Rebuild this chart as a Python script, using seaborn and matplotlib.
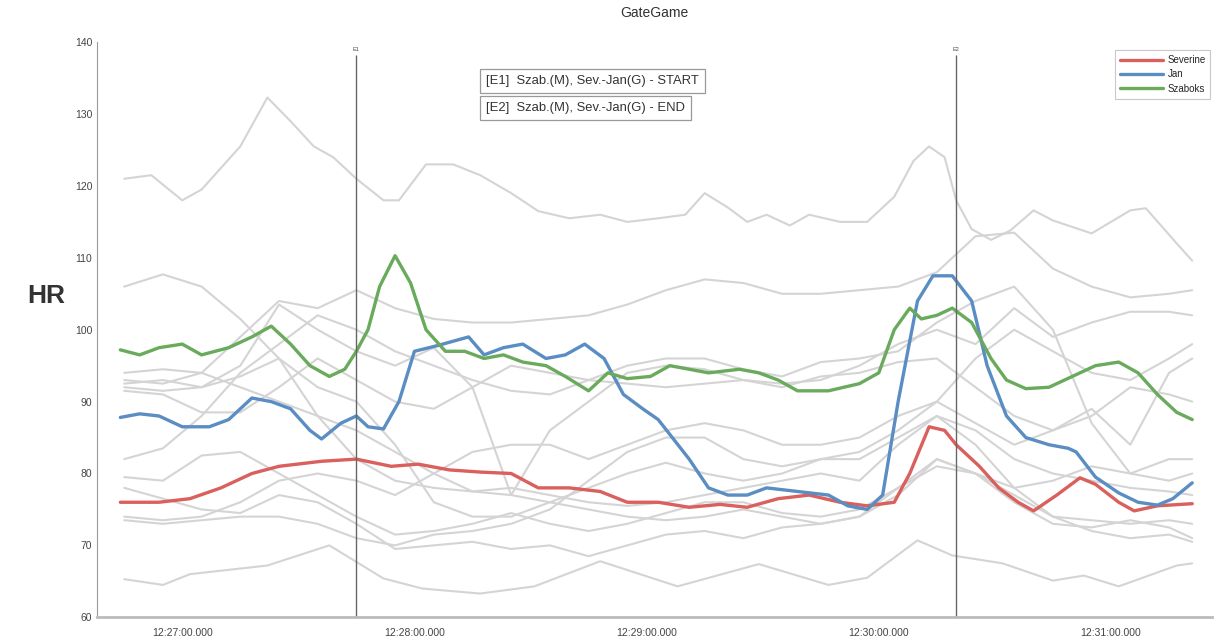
import numpy as np
import pandas as pd
import matplotlib
matplotlib.use('Agg')
import matplotlib.pyplot as plt
import matplotlib.dates as mdates
import seaborn as sns

# seconds relative to 12:27:00
e_times = [45, 200]
e_labels = ['E1', 'E2']
event_texts = ['[E1]  Szab.(M), Sev.-Jan(G) - START', '[E2]  Szab.(M), Sev.-Jan(G) - END']

# Severine (red)
sev_t = [-16, -6, 2, 10, 18, 25, 36, 45, 54, 61, 69, 77, 85, 92, 100, 108, 115, 123, 131, 139,
         146, 154, 162, 170, 177, 184, 188, 193, 197, 200, 206, 211, 216, 220, 226, 232, 236, 242, 246, 252, 261]
sev_hr = [76, 76, 76.5, 78, 80, 81, 81.7, 82, 81, 81.3, 80.5, 80.2, 80, 78, 78, 77.5, 76, 76, 75.3, 75.7,
          75.3, 76.5, 77, 76, 75.5, 76, 80, 86.5, 86, 84, 81, 78, 76, 74.8, 77, 79.4, 78.5, 76, 74.8, 75.5, 75.8]

# Jan (blue)
jan_t = [-16, -11, -6, 0, 7, 12, 18, 23, 28, 33, 36, 41, 45, 48, 52, 56, 60, 66, 74, 78,
         83, 88, 94, 99, 104, 109, 114, 119, 123, 131, 136, 141, 146, 151, 159, 167, 172, 177, 181, 185,
         190, 194, 199, 204, 208, 213, 218, 224, 229, 231, 236, 242, 247, 252, 256, 261]
jan_hr = [87.8, 88.3, 88, 86.5, 86.5, 87.5, 90.5, 90, 89, 86, 84.8, 87, 88, 86.5, 86.2, 90, 97, 97.8, 99, 96.5,
          97.5, 98, 96, 96.5, 98, 96, 91, 89, 87.5, 82, 78, 77, 77, 78, 77.5, 77, 75.5, 75, 77, 90,
          104, 107.5, 107.5, 104, 95, 88, 85, 84, 83.5, 83, 79.5, 77.3, 76, 75.6, 76.5, 78.7]

# Szaboks (green)
sza_t = [-16, -11, -6, 0, 5, 12, 18, 23, 28, 33, 38, 42, 45, 48, 51, 55, 59, 63, 68, 73,
         78, 83, 88, 94, 99, 105, 110, 115, 121, 126, 131, 136, 144, 149, 154, 159, 167, 175, 180, 184,
         188, 191, 195, 199, 204, 209, 213, 218, 224, 230, 236, 242, 247, 252, 257, 261]
sza_hr = [97.2, 96.5, 97.5, 98, 96.5, 97.5, 99, 100.5, 98, 95, 93.5, 94.5, 97, 100, 106, 110.3, 106.5, 100, 97, 97,
          96, 96.5, 95.5, 95, 93.5, 91.5, 94, 93.2, 93.5, 95, 94.5, 94, 94.5, 94, 93, 91.5, 91.5, 92.5, 94, 100,
          103, 101.5, 102, 103, 101, 96, 93, 91.8, 92, 93.5, 95, 95.5, 94, 91, 88.5, 87.5]

# background participants (gray)
top_t = [-15, -8, 0, 5, 15, 22, 28, 34, 39, 45, 52, 56, 63, 70, 77, 85, 92, 100, 108, 115,
         123, 130, 135, 141, 146, 151, 157, 162, 170, 177, 184, 189, 193, 197, 200, 204, 209, 214, 220, 225,
         235, 245, 249, 257, 261]
top_hr = [121, 121.5, 118, 119.5, 125.5, 132.3, 129, 125.5, 124, 121, 118, 118, 123, 123, 121.5, 119, 116.5, 115.5, 116, 115,
          115.5, 116, 119, 117, 115, 116, 114.5, 116, 115, 115, 118.5, 123.5, 125.5, 124, 118, 114, 112.5, 113.8, 116.6, 115.2,
          113.4, 116.6, 116.9, 112, 109.6]

low_t = [-15, -5, 2, 22, 38, 45, 52, 62, 77, 91, 108, 128, 149, 167, 177, 190, 199, 212, 225, 233, 242, 257, 261]
low_hr = [65.3, 64.5, 66, 67.2, 70, 67.7, 65.4, 64, 63.3, 64.3, 67.8, 64.3, 67.4, 64.5, 65.5, 70.7, 68.6, 67.5, 65.1, 65.8, 64.3, 67.2, 67.5]

grid_t = [-15, -5, 5, 15, 25, 35, 45, 55, 65, 75, 85, 95, 105, 115, 125, 135, 145, 155, 165, 175,
          185, 195, 205, 215, 225, 235, 245, 255, 261]
bg2 = [106, 107.7, 106, 101.5, 96, 88, 82, 79, 78, 77.5, 77, 76, 75, 74, 73.5, 74, 75, 74, 73, 74,
       78, 81, 80, 77, 74, 73.5, 73, 73.5, 73]
bg3 = [93, 92.5, 94, 99, 104, 103, 105.5, 103, 101.5, 101, 101, 101.5, 102, 103.5, 105.5, 107, 106.5, 105, 105, 105.5,
       106, 108, 113, 113.5, 108.5, 106, 104.5, 105, 105.5]
bg4 = [94, 94.5, 94, 92, 90, 88, 86, 83, 80, 77.5, 78, 77, 76, 75.5, 76, 77, 78, 79, 80, 79,
       84, 88, 86, 82, 80, 79, 78, 77.5, 77]
bg5 = [92.5, 93, 92, 95, 103.5, 100, 97, 95, 97.5, 92, 77, 86, 90, 94, 95, 94.5, 93, 92.5, 93, 95,
       98, 100, 98, 103, 99, 101, 102.5, 102.5, 102]
bg6 = [91.5, 91, 88.5, 88.5, 92, 96, 93, 90, 89, 92, 95, 94, 93, 92.5, 92, 92.5, 93, 92, 93.5, 94,
       95.5, 96, 92, 88, 86, 88, 92, 91, 90]
bg7 = [82, 83.5, 88, 94, 98, 102, 100, 97, 95, 93, 91.5, 91, 93, 95, 96, 96, 94.5, 93.5, 95.5, 96,
       97, 101, 104, 106, 100, 87, 80, 82, 82]
bg8 = [79.5, 79, 82.5, 83, 80, 77, 74, 71.5, 72, 73, 74.5, 73, 72, 73, 74.5, 76, 76, 74.5, 74, 75,
       78, 82, 80, 78, 79, 81, 80, 79, 80]
bg9 = [78, 76.5, 75, 74.5, 77, 76, 73, 69.5, 70, 70.5, 69.5, 70, 68.5, 70, 71.5, 72, 71, 72.5, 73, 74,
       77, 82, 80, 76, 73, 72.5, 73.5, 72.5, 71]
bg10 = [74, 73.5, 74, 76, 79, 80, 79, 77, 80, 83, 84, 84, 82, 84, 86, 87, 86, 84, 84, 85,
        88, 90, 87, 84, 86, 89, 84, 94, 96]
bg11 = [73.5, 73, 73.5, 74, 74, 73, 71, 70, 71.5, 72, 73, 75, 79, 83, 85, 85, 82, 81, 82, 82,
        85, 88, 84, 78, 74, 72, 71, 71.5, 70.5]
bg13 = [92, 91.5, 92, 93.5, 96, 92, 90, 84, 76, 74, 74, 76, 78, 80, 81.5, 80, 79, 80, 82, 83,
        86, 90, 96, 100, 97, 94, 93, 96, 98]

base = pd.Timestamp('2019-05-14 12:27:00')


def to_time(secs):
    return base + pd.to_timedelta(secs, unit='s')


gray_frames = [pd.DataFrame({'time': to_time(top_t), 'hr': top_hr, 'line': 'bg1'}),
               pd.DataFrame({'time': to_time(low_t), 'hr': low_hr, 'line': 'bg12'})]
for i, vals in enumerate([bg2, bg3, bg4, bg5, bg6, bg7, bg8, bg9, bg10, bg11, bg13]):
    gray_frames.append(pd.DataFrame({'time': to_time(grid_t), 'hr': vals, 'line': f'g{i}'}))
gray = pd.concat(gray_frames, ignore_index=True)

main = pd.concat([
    pd.DataFrame({'time': to_time(sev_t), 'hr': sev_hr, 'name': 'Severine'}),
    pd.DataFrame({'time': to_time(jan_t), 'hr': jan_hr, 'name': 'Jan'}),
    pd.DataFrame({'time': to_time(sza_t), 'hr': sza_hr, 'name': 'Szaboks'}),
], ignore_index=True)

sns.set_style('white')
plt.rcParams['font.family'] = ['Liberation Sans', 'DejaVu Sans']

fig = plt.figure(figsize=(12.14, 6.39), dpi=100)
ax = fig.add_axes([0.08, 0.034, 0.918, 0.9])

sns.lineplot(data=gray, x='time', y='hr', units='line', estimator=None,
             color='#d4d4d4', lw=1.5, legend=False, ax=ax)
sns.lineplot(data=main, x='time', y='hr', hue='name', estimator=None,
             hue_order=['Severine', 'Jan', 'Szaboks'],
             palette=['#d9605c', '#5a8dc2', '#6aaa5c'], lw=2.4, ax=ax)

# event markers
for t, lab in zip(e_times, e_labels):
    ax.vlines(to_time(t), 60, 138.2, color='#666666', lw=1)
    ax.text(to_time(t), 139.0, lab, fontsize=4, ha='center', va='center', color='#444444')

box = dict(boxstyle='square,pad=0.45', fc='white', ec='#999999', lw=0.9)
ax.text(0.349, 0.933, event_texts[0], transform=ax.transAxes, fontsize=9.4,
        va='center', ha='left', color='#333333', bbox=box)
ax.text(0.349, 0.886, event_texts[1], transform=ax.transAxes, fontsize=9.4,
        va='center', ha='left', color='#333333', bbox=box)

ax.set_ylim(60, 140)
ax.set_yticks(range(60, 141, 10))
ax.set_xlim(to_time(-22), to_time(266))
ax.xaxis.set_major_locator(mdates.MinuteLocator())
ax.xaxis.set_major_formatter(mdates.DateFormatter('%H:%M:%S.000'))
ax.tick_params(axis='both', direction='in', length=5, color='#888888',
               labelsize=7.5, labelcolor='#444444')
ax.tick_params(axis='x', pad=8)

for s in ['top', 'right']:
    ax.spines[s].set_visible(False)
ax.spines['left'].set_color('#999999')
ax.spines['bottom'].set_color('#bbbbbb')
ax.spines['bottom'].set_linewidth(2)

ax.set_xlabel('')
ax.set_ylabel('HR', fontsize=19, fontweight='bold', rotation=0, color='#333333')
ax.yaxis.set_label_coords(-0.046, 0.537)
ax.set_title('GateGame', fontsize=10, color='#333333', pad=18)

leg = ax.legend(loc='upper right', bbox_to_anchor=(0.999, 0.986), fontsize=7,
                frameon=True, fancybox=False, edgecolor='#bbbbbb', handlelength=4.5,
                borderaxespad=0, labelspacing=0.45, borderpad=0.5, handletextpad=0.4)
leg.get_frame().set_linewidth(0.8)

fig.savefig('out.png', dpi=100)
